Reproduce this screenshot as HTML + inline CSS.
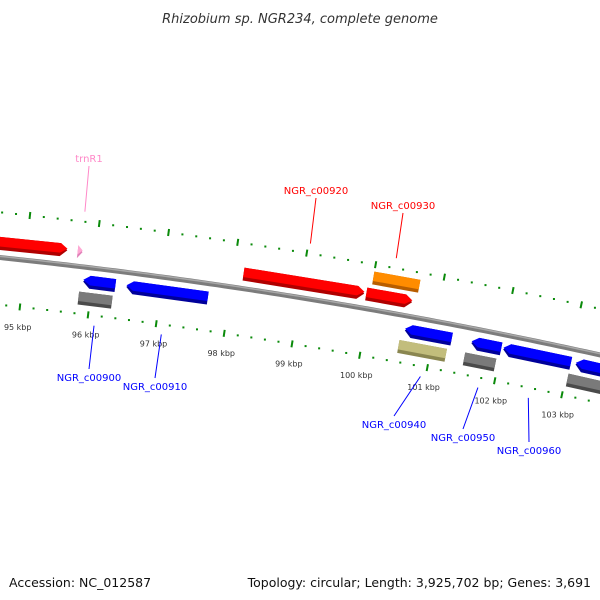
<!DOCTYPE html>
<html><head><meta charset="utf-8"><style>
html,body{margin:0;padding:0;background:#fff;}
svg{display:block;font-family:"DejaVu Sans","Liberation Sans",sans-serif;}
</style></head><body>
<svg id="map" width="600" height="600" viewBox="0 0 600 600" xmlns="http://www.w3.org/2000/svg">
<text x="300" y="23" text-anchor="middle" font-size="13" font-style="italic" fill="#333">Rhizobium sp. NGR234, complete genome</text>
<text x="9" y="587" font-size="12.5" fill="#111">Accession: NC_012587</text>
<text x="591" y="587" text-anchor="end" font-size="12.5" fill="#111">Topology: circular; Length: 3,925,702 bp; Genes: 3,691</text>
<g id="rings"></g><g id="genes"></g><g id="labels"></g>
</svg>
<script>
const tickKbp = [94,95,96,97,98,99,100,101,102,103,104];
const geneNames = ["gene-left","trnR1","NGR_c00900","NGR_c00900b","NGR_c00910","NGR_c00920","NGR_c00930","NGR_c00930b","NGR_c00940","NGR_c00940b","NGR_c00950","NGR_c00950b","NGR_c00960","gene-right","gene-right-b"];
const geneStart = [93.3,95.74,95.87,95.83,96.5,98.15,99.94,100.0,100.58,100.53,101.56,101.5,102.03,103.1,103.03];
const geneEnd   = [95.59,95.81,96.34,96.32,97.69,99.91,100.61,100.67,101.27,101.23,102.0,101.96,103.03,104.2,104.2];
const geneStrand = [1,1,-1,0,-1,1,1,0,-1,0,-1,0,-1,-1,0];
const geneRow = [1,1,1,2,1,1,1,2,1,2,1,2,1,1,2];
const geneSide = [1,1,-1,-1,-1,1,1,1,-1,-1,-1,-1,-1,-1,-1];
const geneColor = ["red","pink","blue","grey","blue","red","red","orange","blue","tan","blue","grey","blue","blue","grey"];
const labelText = ["trnR1","NGR_c00900","NGR_c00910","NGR_c00920","NGR_c00930","NGR_c00940","NGR_c00950","NGR_c00960"];
const labelGene = [1,2,4,5,6,8,10,12];
const labelX = [89,89,155,316,403,394,463,529];
const labelY = [162,381,390,194,209,428,441,454];

const NS="http://www.w3.org/2000/svg";
const CX=-564, CY=5628, RB=5400, RIN=5353, ROUT=5445;
const pal={red:["#ff0000","#b00000"],blue:["#0000ff","#00009a"],grey:["#7a7a7a","#4a4a4a"],orange:["#ff8c00","#b85e00"],tan:["#c2bd7c","#8a8650"],pink:["#ffa8d4","#e080b8"]};
const labCol={red:"#ff0000",blue:"#0000ff",pink:"#ff88c8",orange:"#ff0000",grey:"#0000ff",tan:"#0000ff"};
function ang(k){return (9.937+(k-100)*0.735)*Math.PI/180;}
function pt(k,r){const t=ang(k);return [CX+r*Math.sin(t),CY-r*Math.cos(t)];}
function P(a){return a[0].toFixed(2)+","+a[1].toFixed(2);}
function mk(tag,attrs,parent){const e=document.createElementNS(NS,tag);for(const k in attrs)e.setAttribute(k,attrs[k]);parent.appendChild(e);return e;}
const rings=document.getElementById('rings'), genes=document.getElementById('genes'), labels=document.getElementById('labels');

// backbone
let bb=[];for(let k=92.5;k<=105.5;k+=0.1)bb.push(P(pt(k,RB)));
let e=mk('polyline',{points:bb.join(' '),fill:'none',stroke:'#7c7c7c','stroke-width':5},rings);


let bb2=[];for(let k=92.5;k<=105.5;k+=0.1)bb2.push(P(pt(k,RB+1.2)));
e=mk('polyline',{points:bb2.join(' '),fill:'none',stroke:'#a8a8a8','stroke-width':1.5},rings);



// ticks
tickKbp.forEach(k=>{
  [RIN,ROUT].forEach(r=>{
    const a=pt(k,r-3.5),b=pt(k,r+3.5);
    let t=mk('line',{x1:a[0],y1:a[1],x2:b[0],y2:b[1],stroke:'#0a8a0a','stroke-width':2},rings);
    
    
    for(let j=1;j<5;j++){const c=pt(k+j*0.2,r);
      let d=mk('rect',{x:c[0]-1,y:c[1]-1,width:2,height:2,fill:'#0a8a0a'},rings);
      
      }
  });
  const l=pt(k,RIN-20);
  let tx=mk('text',{x:l[0],y:l[1]+3,'text-anchor':'middle','font-size':8,fill:'#333'},rings);
  tx.textContent=k+" kbp";
  
  
});

// genes
function rowR(i){const s=geneSide[i],row=geneRow[i];const lo=row===1?8:25, hi=row===1?21:38;return s>0?[RB+lo,RB+hi]:[RB-hi,RB-lo];}
function shape(s,en,r0,r1,dir){
  const a=0.1, rm=(r0+r1)/2; let p=[];
  if(dir===1){const b=Math.max(s,en-a);p=[pt(s,r0),pt(s,r1),pt(b,r1),pt(en,rm),pt(b,r0)];}
  else if(dir===-1){const b=Math.min(en,s+a);p=[pt(s,rm),pt(b,r1),pt(en,r1),pt(en,r0),pt(b,r0)];}
  else p=[pt(s,r0),pt(s,r1),pt(en,r1),pt(en,r0)];
  return p.map(P).join(' ');
}
geneStart.forEach((s,i)=>{
  const [r0,r1]=rowR(i), c=pal[geneColor[i]];
  const g=mk('g',{},genes);
  
  
  mk('polygon',{points:shape(s,geneEnd[i],r0,r1,geneStrand[i]),fill:c[1]},g);
  mk('polygon',{points:shape(s,geneEnd[i],r0+3.5,r1,geneStrand[i]),fill:c[0]},g);
});

// labels
labelText.forEach((t,j)=>{
  const i=labelGene[j], mid=(geneStart[i]+geneEnd[i])/2;
  const a=pt(mid, geneSide[i]>0?5455:5343);
  const col=labCol[geneColor[i]];
  let ln=mk('line',{x1:a[0],y1:a[1],x2:labelX[j],y2:labelY[j]+(geneSide[i]>0?4:-12),stroke:col,'stroke-width':1},labels);
  
  
  let tx=mk('text',{x:labelX[j],y:labelY[j],'text-anchor':'middle','font-size':10,fill:col},labels);
  tx.textContent=t;
  
  
});
</script>
</body></html>
